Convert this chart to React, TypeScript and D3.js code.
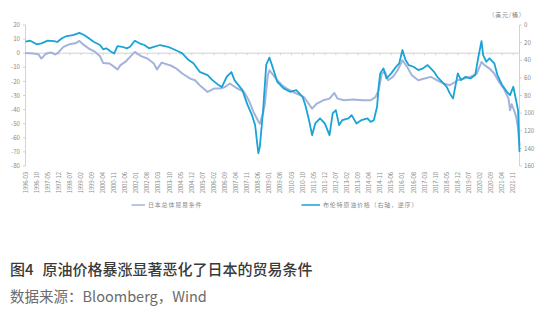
import React from "react";
import * as d3 from "d3";

const xTickLabels = [
  "1996-03","1996-10","1997-05","1997-12","1998-07","1999-02","1999-09","2000-04","2000-11",
  "2001-06","2002-01","2002-08","2003-03","2003-10","2004-05","2004-12","2005-07","2006-02",
  "2006-09","2007-04","2007-11","2008-06","2009-01","2009-08","2010-03","2010-10","2011-05",
  "2011-12","2012-07","2013-02","2013-09","2014-04","2014-11","2015-06","2016-01","2016-08",
  "2017-03","2017-10","2018-05","2018-12","2019-07","2020-02","2020-09","2021-04","2021-11"
];
const leftTicks = [20, 10, 0, -10, -20, -30, -40, -50, -60, -70, -80];
const rightTicks = [0, 20, 40, 60, 80, 100, 120, 140, 160];

const brentDates = [
  "1996-03","1996-06","1996-10","1997-01","1997-05","1997-09","1997-11","1998-02","1998-05","1998-09",
  "1999-01","1999-04","1999-07","1999-10","2000-02","2000-04","2000-06","2000-09","2000-11","2001-01",
  "2001-04","2001-07","2001-09","2001-12","2002-03","2002-06","2002-09","2002-11","2003-04","2003-09",
  "2004-04","2004-06","2004-10","2005-01","2005-05","2005-10","2006-01","2006-05","2006-07","2006-10",
  "2007-01","2007-03","2007-08","2007-11","2008-02","2008-04","2008-06","2008-07","2008-09","2008-11",
  "2009-01","2009-03","2009-06","2009-10","2010-02","2010-06","2010-10","2010-12","2011-02","2011-04",
  "2011-06","2011-09","2011-12","2012-03","2012-05","2012-07","2012-09","2012-11","2013-03","2013-05",
  "2013-08","2013-11","2014-03","2014-05","2014-07","2014-09","2014-10","2014-11","2015-01","2015-03",
  "2015-06","2015-09","2015-11","2016-01","2016-03","2016-05","2016-08","2016-11","2017-02","2017-05",
  "2017-09","2017-11","2018-02","2018-05","2018-07","2018-09","2018-12","2019-02","2019-05","2019-08",
  "2019-11","2020-01","2020-03","2020-04","2020-06","2020-08","2020-11","2021-01","2021-04","2021-07",
  "2021-09","2021-11","2022-01","2022-02","2022-03"
];
const brentValues = [
  19.0,17.8,21.9,20.8,17.8,18.2,19.3,15.1,12.5,11.4,
  9.0,11.4,15.1,19.0,22.7,27.6,26.5,30.3,32.2,23.9,
  24.7,26.5,24.7,17.8,20.8,22.7,26.5,25.3,22.7,24.7,
  30.3,32.2,39.8,43.5,53.1,56.8,62.5,68.2,70.5,59.0,
  53.4,62.5,73.9,89.8,102.3,113.6,145.5,138,97,45,
  37,47.4,64.4,71.9,75.8,73.9,81.5,92.8,108,125,
  111.7,106,111.7,125,100.3,96.6,113.6,108,106,102.3,
  111.7,108,106,109.9,108,92.8,70.1,54.9,49.2,60.6,
  54.9,47.4,43.5,28.4,39.8,45.5,47.4,51.1,49.2,45.5,
  53.1,58.8,64.4,70.1,77.6,83.3,54.9,62.5,58.8,60.6,
  56.8,36,18.2,34.1,41.7,37.8,43.5,56.8,68.2,75.8,
  79.5,70.1,87.2,96.6,144
];

const totDates = [
  "1996-03","1996-08","1996-11","1997-01","1997-04","1997-07","1997-10","1997-12","1998-03","1998-07",
  "1998-11","1999-01","1999-04","1999-07","1999-11","2000-02","2000-04","2000-08","2000-11","2001-01",
  "2001-03","2001-06","2001-09","2001-12","2002-04","2002-08","2002-12","2003-02","2003-05","2003-11",
  "2004-02","2004-06","2004-11","2005-02","2005-05","2005-10","2006-02","2006-06","2006-09","2006-12",
  "2007-04","2007-09","2007-12","2008-03","2008-06","2008-07","2008-09","2008-10","2008-12","2009-01",
  "2009-03","2009-06","2009-09","2009-12","2010-04","2010-08","2010-11","2011-01","2011-04","2011-07",
  "2011-11","2012-03","2012-06","2012-08","2012-12","2013-06","2013-12","2014-05","2014-08","2014-10",
  "2014-12","2015-02","2015-04","2015-07","2015-10","2016-01","2016-04","2016-07","2016-11","2017-03",
  "2017-07","2017-11","2018-03","2018-07","2018-10","2018-12","2019-04","2019-08","2019-12","2020-03",
  "2020-05","2020-08","2020-11","2021-02","2021-05","2021-08","2021-09","2021-10","2021-12","2022-01",
  "2022-02","2022-03"
];
const totValues = [
  0.2,-0.2,-0.7,-3.8,-0.2,0.5,-0.9,0.9,4.5,6.4,
  7.3,8.7,5.7,3.3,0.9,-2.1,-6.9,-7.3,-9.7,-11.6,
  -8.5,-6.2,-2.6,0.9,-2.1,-3.8,-7.3,-11.5,-6.7,-8.9,
  -10.7,-14.4,-18,-19.2,-22.7,-27.5,-25.1,-25.1,-24,-21.5,
  -24.5,-27.5,-33.4,-41.7,-48.3,-50,-42.6,-37,-15.6,-12.1,
  -14.9,-19.2,-22.7,-25.1,-27.5,-29.5,-31.3,-34.6,-39.3,-35.7,
  -33.4,-32.2,-28.2,-32.2,-33.4,-32.9,-33.4,-33.4,-31.1,-26.3,
  -14.4,-13.3,-19.2,-16.8,-12.1,-5,-9.7,-15.6,-19.2,-18,
  -16.8,-19.2,-21.5,-22.7,-20.6,-19.2,-18,-16.8,-14.4,-6.2,
  -8.5,-10.9,-14.4,-20.4,-24.9,-32,-40.5,-36.2,-41.9,-46.2,
  -53.3,-65.4
];

const legendTot = "日本总体贸易条件";
const legendBrent = "布伦特原油价格（右轴，逆序）";
const unitLabel = "（美元/桶）";
const titleNum = "图4";
const titleText = "原油价格暴涨显著恶化了日本的贸易条件";
const sourceText = "数据来源：Bloomberg，Wind";

const parse = d3.timeParse("%Y-%m");

export default function App() {
  const W = 550, H = 323;
  const x = d3.scaleTime()
    .domain([new Date(1996, 2, 1), new Date(2022, 2, 1)])
    .range([25.5, 519.5]);
  const yL = d3.scaleLinear().domain([-80, 20]).range([166, 25]);
  const yR = d3.scaleLinear().domain([0, 160]).range([25, 166]);

  const brent = brentDates.map((d, i) => ({ d: parse(d) as Date, v: brentValues[i] }));
  const tot = totDates.map((d, i) => ({ d: parse(d) as Date, v: totValues[i] }));

  const lineR = d3.line<{ d: Date; v: number }>().x(p => x(p.d)).y(p => yR(p.v));
  const lineL = d3.line<{ d: Date; v: number }>().x(p => x(p.d)).y(p => yL(p.v));

  const axisColor = "#c8c8c8";
  const labelColor = "#8a8a8a";
  const font = "'Noto Sans CJK SC', 'Noto Sans', sans-serif";
  const x0 = 25.5, x1 = 519.5;
  const zeroY = yL(0);

  return (
    <svg width={W} height={H} style={{ position: "absolute", left: 0, top: 0, background: "#fff" }} fontFamily={font}>
      {/* unit label */}
      <text x={507} y={17} fontSize={6} fill={labelColor} textAnchor="middle" letterSpacing={0.8}>{unitLabel}</text>

      {/* left axis */}
      <line x1={x0} x2={x0} y1={yL(20)} y2={yL(-80)} stroke={axisColor} strokeWidth={0.8} />
      {leftTicks.map(t => (
        <g key={"l" + t}>
          <line x1={x0 - 2.5} x2={x0} y1={yL(t)} y2={yL(t)} stroke={axisColor} strokeWidth={0.8} />
          <text x={20} y={yL(t)} dy="0.35em" fontSize={6.2} fill={labelColor} textAnchor="end">{t}</text>
        </g>
      ))}

      {/* right axis */}
      <line x1={x1} x2={x1} y1={yR(0)} y2={yR(160)} stroke={axisColor} strokeWidth={0.8} />
      {rightTicks.map(t => (
        <g key={"r" + t}>
          <line x1={x1} x2={x1 + 2.5} y1={yR(t)} y2={yR(t)} stroke={axisColor} strokeWidth={0.8} />
          <text x={524} y={yR(t)} dy="0.35em" fontSize={6.2} fill={labelColor} textAnchor="start">{t}</text>
        </g>
      ))}

      {/* zero line with category ticks */}
      <line x1={x0} x2={x1} y1={zeroY} y2={zeroY} stroke={axisColor} strokeWidth={0.8} />
      {xTickLabels.map(lbl => {
        const px = x(parse(lbl) as Date);
        return (
          <g key={lbl}>
            <line x1={px} x2={px} y1={zeroY} y2={zeroY + 2} stroke={axisColor} strokeWidth={0.8} />
            <text transform={`translate(${px},172) rotate(-90)`} dy="0.35em" fontSize={5.8}
              fill={labelColor} textAnchor="end">{lbl}</text>
          </g>
        );
      })}

      {/* series */}
      <path d={lineL(tot) || ""} fill="none" stroke="#a3b3db" strokeWidth={2} strokeLinejoin="round" />
      <path d={lineR(brent) || ""} fill="none" stroke="#19a3d6" strokeWidth={1.8} strokeLinejoin="round" />

      {/* legend */}
      <line x1={131.5} x2={145} y1={205} y2={205} stroke="#a3b3db" strokeWidth={1.5} />
      <text x={148} y={205} dy="0.35em" fontSize={6} fill={labelColor} letterSpacing={0.8}>{legendTot}</text>
      <line x1={301.5} x2={320} y1={205} y2={205} stroke="#19a3d6" strokeWidth={1.5} />
      <text x={323} y={205} dy="0.35em" fontSize={6} fill={labelColor} letterSpacing={0.8}>{legendBrent}</text>

      {/* title */}
      <text x={10} y={275} fontSize={15} fill="#3a3a3a" fontWeight={500}>{titleNum}</text>
      <text x={42.5} y={275} fontSize={15} fill="#3a3a3a" fontWeight={500}>{titleText}</text>
      <text x={10} y={302} fontSize={14.5} fill="#6b6b6b">{sourceText}</text>
    </svg>
  );
}
